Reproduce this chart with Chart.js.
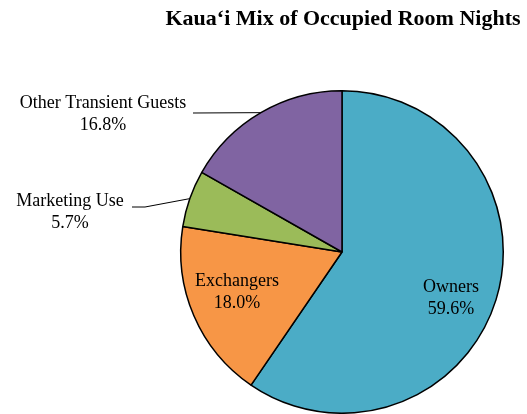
<!DOCTYPE html>
<html>
<head>
<meta charset="utf-8">
<script src="https://cdn.jsdelivr.net/npm/chart.js@4.4.1/dist/chart.umd.min.js"></script>
<style>
  html, body { margin: 0; padding: 0; background: #fff; }
  canvas { display: block; }
</style>
</head>
<body>
<canvas id="mix" width="527" height="414"></canvas>
<script>
const TITLE = "Kaua\u2018i Mix of Occupied Room Nights";
const categories = ["Owners", "Exchangers", "Marketing Use", "Other Transient Guests"];
const shares = [59.6, 18.0, 5.7, 16.8];
const colors = ["#4BACC6", "#F79646", "#9BBB59", "#8064A2"];

// label layout, offsets from the pie centre (px); elbow = leader bend point
const labelLayout = [
  { dx: 109, dy: 46, inside: true },
  { dx: -105, dy: 40, inside: true },
  { dx: -272, dy: -40, end: [-210, -45], elbow: [-197, -45] },
  { dx: -239, dy: -138, end: [-149, -139], elbow: null },
];

const FONT = '"Liberation Serif", "Times New Roman", serif';

const labelPlugin = {
  id: "pieLabels",
  afterDraw(chart) {
    const ctx = chart.ctx;
    const meta = chart.getDatasetMeta(0);
    ctx.save();

    ctx.fillStyle = "#000";
    ctx.font = "bold 22px " + FONT;
    ctx.textAlign = "center";
    ctx.textBaseline = "middle";
    ctx.fillText(TITLE, 343, 19);

    ctx.font = "18px " + FONT;
    meta.data.forEach((arc, i) => {
      const p = arc.getProps(["x", "y", "startAngle", "endAngle", "outerRadius"], true);
      const lay = labelLayout[i];
      const lx = p.x + lay.dx;
      const ly = p.y + lay.dy;
      if (!lay.inside) {
        const mid = (p.startAngle + p.endAngle) / 2;
        const ex = p.x + Math.cos(mid) * p.outerRadius;
        const ey = p.y + Math.sin(mid) * p.outerRadius;
        ctx.beginPath();
        ctx.strokeStyle = "#000";
        ctx.lineWidth = 1;
        ctx.moveTo(ex, ey);
        if (lay.elbow) ctx.lineTo(p.x + lay.elbow[0], p.y + lay.elbow[1]);
        ctx.lineTo(p.x + lay.end[0], p.y + lay.end[1]);
        ctx.stroke();
      }
      ctx.fillText(categories[i], lx, ly - 11);
      ctx.fillText(shares[i].toFixed(1) + "%", lx, ly + 11);
    });
    ctx.restore();
  },
};

new Chart(document.getElementById("mix"), {
  type: "pie",
  data: {
    labels: categories,
    datasets: [{
      data: shares,
      backgroundColor: colors,
      borderColor: "#000",
      borderWidth: 1.5,
    }],
  },
  options: {
    responsive: false,
    animation: false,
    layout: { padding: { left: 180, right: 23, top: 90, bottom: 0 } },
    plugins: {
      legend: { display: false },
      title: { display: false },
      tooltip: { enabled: false },
    },
  },
  plugins: [labelPlugin],
});
</script>
</body>
</html>
